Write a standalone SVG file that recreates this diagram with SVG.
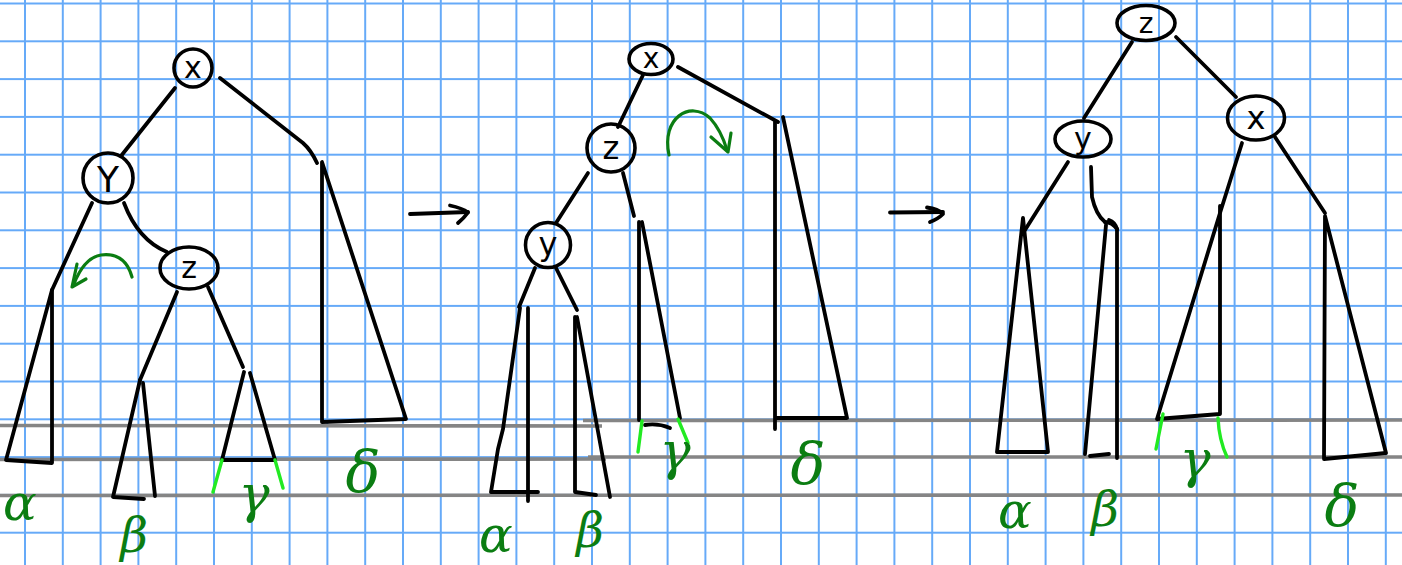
<svg xmlns="http://www.w3.org/2000/svg" width="1402" height="565" viewBox="0 0 1402 565">
  <style>
    .ink { fill: none; stroke: #000; stroke-width: 3.8; stroke-linecap: round; stroke-linejoin: round; }
    .node { fill: none; stroke: #000; stroke-width: 3.6; }
    .lbl { font-family: "DejaVu Sans", "Liberation Sans", sans-serif; fill: #000; text-anchor: middle; }
    .greek { font-family: "DejaVu Serif", "Liberation Serif", serif; font-style: italic; fill: #0b7d12; text-anchor: middle; }
    .rot { fill: none; stroke: #0b7d12; stroke-width: 3.2; stroke-linecap: round; stroke-linejoin: round; }
    .lime { fill: none; stroke: #22ea22; stroke-width: 3.4; stroke-linecap: round; }
    .base { fill: none; stroke: #858585; stroke-width: 3.6; }
  </style>
  <defs>
    <pattern id="grid" patternUnits="userSpaceOnUse" x="6.1" y="-15.4" width="37.8" height="37.8">
      <path d="M18.9,0 V37.8 M0,18.9 H37.8" stroke="#66aaf8" stroke-width="2" fill="none"/>
    </pattern>
  </defs>

  <!-- squared paper -->
  <rect width="1402" height="565" fill="#fff"/>
  <rect width="1402" height="565" fill="url(#grid)"/>

  <!-- height reference lines -->
  <g id="baselines" class="base">
    <path d="M0,425.5 L602,426"/>
    <path d="M583,420.5 L1402,420"/>
    <path d="M0,459.5 L606,459"/>
    <path d="M588,457 L1402,457"/>
    <path d="M0,495.5 L1402,495"/>
  </g>

  <!-- tree edges -->
  <g id="connectors" class="ink">
    <!-- first tree -->
    <path d="M175,88 L121,156"/>
    <path d="M220,78 L303,143 Q311,150 317,163"/>
    <path d="M92,203 L52,290"/>
    <path d="M124,203 Q138,240 167,252"/>
    <path d="M177,292 L140,380"/>
    <path d="M208,287 L243,367"/>
    <!-- second tree -->
    <path d="M643,75 L618,127"/>
    <path d="M678,67 L778,122"/>
    <path d="M588,173 L556,223"/>
    <path d="M623,173 L634,216"/>
    <path d="M535,268 L519,307"/>
    <path d="M556,268 L577,310"/>
    <!-- third tree -->
    <path d="M1132,42 L1084,118"/>
    <path d="M1176,37 L1236,97"/>
    <path d="M1068,162 L1025,230"/>
    <path d="M1091,167 L1092,197 Q1096,215 1105,222"/>
    <path d="M1109,220 Q1115,222 1117,229"/>
    <path d="M1242,143 L1220,213"/>
    <path d="M1275,137 L1325,213"/>
  </g>

  <!-- first tree: nodes -->
  <g id="t1-x">
    <circle class="node" cx="193" cy="68" r="19"/>
    <text class="lbl" x="193" y="78" font-size="30">x</text>
  </g>
  <g id="t1-y">
    <circle class="node" cx="108" cy="178" r="25"/>
    <text class="lbl" x="108" y="192" font-size="36">Y</text>
  </g>
  <g id="t1-z">
    <ellipse class="node" cx="189" cy="268" rx="29" ry="21"/>
    <text class="lbl" x="189" y="278" font-size="30">z</text>
  </g>
  <g id="t1-alpha">
    <path class="ink" d="M52,290 L6,460 L52,463 Z"/>
    <text class="greek" x="20" y="520" font-size="50">α</text>
  </g>
  <g id="t1-beta">
    <path class="ink" d="M140,380 L113,497 L144,499"/>
    <path class="ink" d="M143,383 L155,496"/>
    <text class="greek" x="134" y="552" font-size="48">β</text>
  </g>
  <g id="t1-gamma">
    <path class="ink" d="M244,372 L222,460 L275,460 L250,373"/>
    <path class="lime" d="M222,460 L213,492 M275,460 L283,488"/>
    <text class="greek" x="254" y="512" font-size="52">γ</text>
  </g>
  <g id="t1-delta">
    <path class="ink" d="M322,162 L322,422 L406,419 Z"/>
    <text class="greek" x="363" y="492" font-size="58">δ</text>
  </g>
  <g id="t1-rotation">
    <path class="rot" d="M132,277 Q125,252 101,255 Q84,258 74,284"/>
    <path class="rot" d="M77,264 L72,287 L86,279"/>
  </g>

  <!-- step arrows -->
  <g id="step1" class="ink">
    <path d="M410,214 L468,212"/>
    <path d="M450,205.5 Q462,208 468,212.5 Q464,218 458,223"/>
  </g>
  <g id="step2" class="ink">
    <path d="M890,212.5 L943,212"/>
    <path d="M927,207.5 Q938,209 943,214 Q938,219 930,222"/>
  </g>

  <!-- second tree: nodes -->
  <g id="t2-x">
    <ellipse class="node" cx="651" cy="59" rx="22" ry="15.5"/>
    <text class="lbl" x="651" y="68" font-size="28">x</text>
  </g>
  <g id="t2-z">
    <circle class="node" cx="611" cy="148" r="24"/>
    <text class="lbl" x="611" y="159" font-size="32">z</text>
  </g>
  <g id="t2-y">
    <circle class="node" cx="548" cy="245" r="22.5"/>
    <text class="lbl" x="548" y="255" font-size="32">y</text>
  </g>
  <g id="t2-alpha">
    <path class="ink" d="M520,308 L503,429 L498,449 L491,492 L538,492"/>
    <path class="ink" d="M528,308 L528,501"/>
    <text class="greek" x="496" y="552" font-size="50">α</text>
  </g>
  <g id="t2-beta">
    <path class="ink" d="M575,317 L575,492 L596,495"/>
    <path class="ink" d="M577,317 L610,497"/>
    <text class="greek" x="590" y="547" font-size="48">β</text>
  </g>
  <g id="t2-gamma">
    <path class="ink" d="M639,222 L639,420"/>
    <path class="ink" d="M642,222 L680,418"/>
    <path class="ink" d="M645,425 Q658,423 670,428"/>
    <path class="lime" d="M642,421 L638,452 M678,419 L688,443"/>
    <text class="greek" x="675" y="469" font-size="52">γ</text>
  </g>
  <g id="t2-delta">
    <path class="ink" d="M775,122 L775,429"/>
    <path class="ink" d="M783,117 L847,418 L776,418"/>
    <text class="greek" x="808" y="484" font-size="58">δ</text>
  </g>
  <g id="t2-rotation">
    <path class="rot" d="M669,155 C661,118 690,100 710,118 Q721,130 727,150"/>
    <path class="rot" d="M711,137 L728,152 L731,133"/>
  </g>

  <!-- third tree: nodes -->
  <g id="t3-z">
    <ellipse class="node" cx="1146" cy="23" rx="29" ry="17.5"/>
    <text class="lbl" x="1146" y="33" font-size="28">z</text>
  </g>
  <g id="t3-y">
    <ellipse class="node" cx="1083" cy="139" rx="28" ry="18"/>
    <text class="lbl" x="1083" y="149" font-size="30">y</text>
  </g>
  <g id="t3-x">
    <ellipse class="node" cx="1256" cy="118" rx="28.5" ry="22"/>
    <text class="lbl" x="1256" y="129" font-size="32">x</text>
  </g>
  <g id="t3-alpha">
    <path class="ink" d="M1023,218 L997,452 L1048,452 Z"/>
    <text class="greek" x="1015" y="528" font-size="50">α</text>
  </g>
  <g id="t3-beta">
    <path class="ink" d="M1106,225 L1085,454"/>
    <path class="ink" d="M1117,229 L1117,458"/>
    <path class="ink" d="M1090,456 L1109,454"/>
    <path class="ink" d="M1105,222 Q1112,222 1117,229"/>
    <text class="greek" x="1105" y="526" font-size="48">β</text>
  </g>
  <g id="t3-gamma">
    <path class="ink" d="M1220,206 L1220,414 L1157,419 L1220,213"/>
    <path class="lime" d="M1163,414 L1156,449 M1218,418 Q1219,440 1227,457"/>
    <text class="greek" x="1195" y="477" font-size="52">γ</text>
  </g>
  <g id="t3-delta">
    <path class="ink" d="M1325,216 L1324,459 L1386,453 Z"/>
    <text class="greek" x="1342" y="526" font-size="58">δ</text>
  </g>
</svg>
